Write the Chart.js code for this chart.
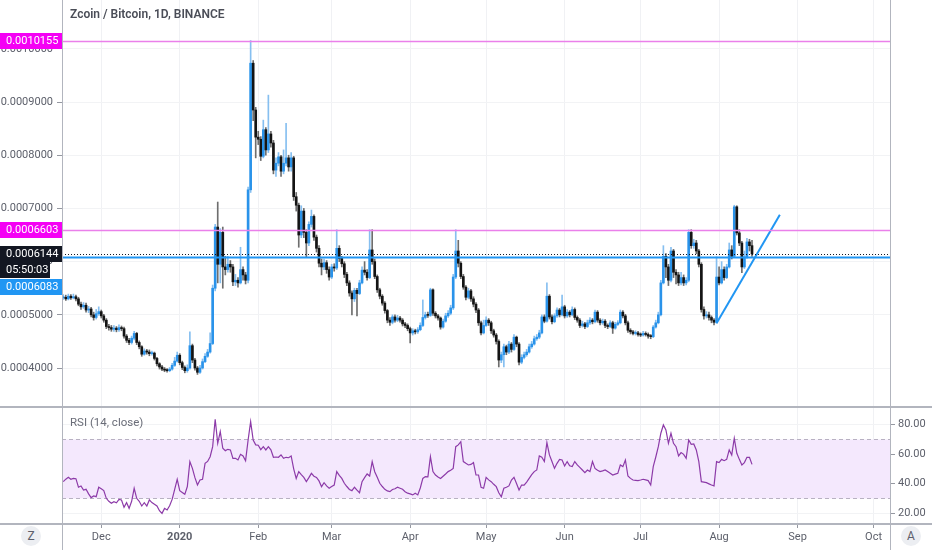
<!DOCTYPE html>
<html>
<head>
<meta charset="utf-8">
<title>Zcoin / Bitcoin, 1D, BINANCE</title>
<script src="https://cdn.jsdelivr.net/npm/chart.js@4.4.1/dist/chart.umd.min.js"></script>
<style>
  html, body { margin: 0; padding: 0; background: #fff; }
  #wrap { position: relative; width: 932px; height: 550px; overflow: hidden; font-family: Roboto, "Noto Sans", sans-serif; }
  canvas { position: absolute; left: 0; }
  #priceChart { top: 0; }
  #rsiChart { top: 408px; }
  .rule { position: absolute; background: #b2b5be; }
  .title { position: absolute; left: 70px; top: 7px; font-size: 12px; font-weight: 600; color: #4a4d57; }
  .rsi-title { position: absolute; left: 70px; top: 415px; font-size: 11.5px; color: #6a6d78; }
  .btn { position: absolute; width: 20px; height: 20px; border-radius: 50%; background: #eceef2; color: #5d606b; font-size: 12px; line-height: 20px; text-align: center; }
</style>
</head>
<body>
<div id="wrap">
  <canvas id="priceChart" width="932" height="406"></canvas>
  <canvas id="rsiChart" width="932" height="142"></canvas>
  <div class="rule" style="left:0;top:406px;width:932px;height:2px"></div>
  <div class="rule" style="left:0;top:523px;width:932px;height:2px"></div>
  <div class="rule" style="left:62px;top:0;width:1px;height:550px"></div>
  <div class="rule" style="left:890px;top:0;width:1px;height:550px"></div>
  <div class="title">Zcoin / Bitcoin, 1D, BINANCE</div>
  <div class="rsi-title">RSI (14, close)</div>
  <div class="btn" style="left:21px;top:526px">Z</div>
  <div class="btn" style="left:901px;top:526px">A</div>
</div>
<script>
// daily candles from 2019-11-16, prices in units of 0.0000001 BTC
const startDate = '2019-11-16';
const dayCount = 327;

const monthDates = ['2019-12-01', '2020-01-01', '2020-02-01', '2020-03-01', '2020-04-01', '2020-05-01',
  '2020-06-01', '2020-07-01', '2020-08-01', '2020-09-01', '2020-10-01'];
const monthNames = ['Dec', '2020', 'Feb', 'Mar', 'Apr', 'May', 'Jun', 'Jul', 'Aug', 'Sep', 'Oct'];

const priceTicks = [4000, 5000, 6000, 7000, 8000, 9000, 10000];
const rsiTicks = [20, 40, 60, 80];
const rsiBand = [30, 70];

// magenta high, magenta resistance, last price, blue support
const levelValues = [10155, 6603, 6144, 6083];
const countdown = '05:50:03';

const trendDates = ['2020-07-31', '2020-08-25'];
const trendValues = [4840, 6880];

const opens = [
  5320,5330,5300,5350,5320,5340,5300,5200,5150,5180,
  5090,5110,5000,4950,5020,5060,4980,4900,4780,4760,
  4730,4750,4720,4760,4740,4600,4520,4480,4560,4650,
  4480,4400,4260,4320,4300,4270,4280,4180,4080,4020,
  3980,3960,3950,3980,4050,4130,4240,4100,4010,3950,
  4000,4420,4150,4000,3920,4000,4120,4220,4300,4460,
  5500,6650,5950,6550,5900,5850,5950,5900,5620,5650,
  5600,5850,5750,5650,7350,9730,8850,8340,8300,7980,
  8480,8100,8400,8230,7720,7850,7970,7700,7850,7950,
  7780,7950,7220,7060,6500,6950,6550,6350,6700,6850,
  6460,6250,5970,5900,5980,5850,5710,5900,5880,6250,
  6060,5960,5760,5600,5410,5300,5460,5400,5600,5840,
  5800,5700,6220,6000,5720,5470,5350,5220,5080,4900,
  4860,4960,4900,4940,4900,4830,4800,4740,4660,4700,
  4680,4720,4800,4950,5000,4990,5470,5030,4980,4940,
  4770,4880,4980,5030,5130,5710,6200,5970,5720,5520,
  5330,5450,5300,5200,5090,4850,4660,4800,4900,4850,
  4700,4620,4500,4150,4250,4400,4300,4450,4350,4580,
  4450,4110,4200,4250,4300,4400,4450,4550,4580,4660,
  4960,4880,5350,4960,4870,4980,5090,5000,5150,4980,
  5050,5000,5100,4950,4900,4800,4830,4780,4850,4900,
  4870,5050,4900,4850,4880,4800,4780,4850,4750,4820,
  4850,5050,4980,4850,4710,4680,4650,4660,4630,4620,
  4650,4630,4600,4590,4770,4850,5000,5600,6100,5900,
  5650,6200,5800,5750,5600,5700,5600,5650,6550,6300,
  6350,6200,5950,5100,4980,5000,4950,4900,4860,5710,
  5600,5850,5700,5900,6220,6100,7030,6540,6350,5900,
  6090,6370,6300
];
const highs = [
  5380,5370,5390,5380,5390,5370,5330,5240,5230,5220,
  5160,5140,5050,5100,5150,5090,5010,4930,4820,4800,
  4800,4780,4810,4790,4770,4630,4560,4600,4690,4670,
  4510,4420,4360,4350,4340,4320,4300,4200,4100,4050,
  4010,3990,4010,4090,4200,4300,4270,4130,4040,4060,
  4680,4450,4180,4030,4050,4170,4270,4350,4660,5560,
  6700,7120,6620,6650,6100,6100,6020,5950,5760,5700,
  6270,5900,5800,7400,10155,9780,8900,8450,8350,8660,
  8520,9130,8450,8280,7950,8050,8000,8100,8600,8000,
  8050,7980,7300,7100,7050,7000,6600,6750,6970,6880,
  6500,6300,6050,6050,6020,5900,5950,5960,6600,6300,
  6100,6000,5800,5640,5450,5500,5500,5650,5900,6000,
  5850,6600,6600,6050,5750,5500,5380,5250,5100,4950,
  5000,5000,4990,4970,4930,4860,4830,4770,4740,4730,
  4760,4850,5280,5050,5050,5500,5490,5060,5010,4960,
  4920,5030,5080,5180,5760,6600,6400,6000,5760,5550,
  5500,5480,5340,5230,5120,4880,4900,4960,4930,4880,
  4730,4650,4530,4300,4450,4430,4500,4480,4630,4600,
  4480,4250,4300,4350,4450,4500,4600,4630,4710,5000,
  5000,5600,5380,5000,5020,5130,5120,5370,5180,5100,
  5080,5150,5130,4980,4930,4880,4860,4900,4950,4930,
  5090,5080,4930,4920,4910,4830,4890,4880,4860,4890,
  5090,5080,5010,4880,4740,4710,4700,4690,4660,4690,
  4680,4660,4630,4800,4900,5050,5650,6300,6150,5950,
  6270,6230,5850,5800,5800,5750,5700,6600,6600,6420,
  6400,6230,5980,5150,5060,5050,4980,4930,6090,5900,
  6000,5900,5950,6350,6300,7060,7050,6600,6380,6200,
  6440,6420,6400
];
const lows = [
  5290,5270,5280,5290,5300,5260,5170,5100,5120,5050,
  5040,4960,4900,4920,4990,4940,4860,4740,4710,4690,
  4690,4680,4690,4700,4560,4480,4440,4450,4530,4440,
  4360,4220,4240,4260,4230,4240,4150,4040,3980,3950,
  3930,3920,3930,3960,4030,4110,4060,3970,3910,3920,
  3980,4100,3960,3880,3900,3980,4100,4200,4280,4440,
  5450,5600,5600,5500,5750,5800,5800,5550,5550,5520,
  5580,5650,5580,5600,7300,8650,7950,8200,7900,7950,
  8000,8050,8150,7650,7600,7800,7600,7650,7800,7700,
  7700,7150,6950,6270,6450,6450,6090,6300,6650,6400,
  6180,5900,5750,5850,5780,5650,5680,5820,5850,6000,
  5900,5700,5550,5350,5000,5250,4980,5380,5580,5750,
  5650,5680,5950,5680,5420,5300,5180,5030,4850,4800,
  4830,4860,4870,4860,4790,4760,4700,4470,4620,4640,
  4650,4700,4780,4920,4950,4970,4990,4940,4900,4730,
  4750,4860,4950,5000,5100,5680,5900,5680,5480,5280,
  5300,5250,5150,5040,4800,4620,4640,4780,4800,4650,
  4580,4450,4020,4100,4020,4250,4270,4300,4330,4400,
  4060,4080,4170,4220,4280,4370,4430,4520,4550,4640,
  4850,4860,4920,4830,4850,4950,4960,4980,4940,4950,
  4960,4980,4910,4860,4760,4770,4740,4760,4820,4830,
  4850,4860,4810,4820,4760,4740,4760,4650,4730,4800,
  4830,4940,4810,4670,4640,4620,4620,4600,4590,4600,
  4600,4560,4550,4570,4750,4830,4980,5580,5700,5550,
  5620,5700,5580,5550,5560,5550,5560,5620,6250,6250,
  6150,5900,5050,4920,4940,4900,4850,4810,4840,5560,
  5580,5650,5680,5880,6050,6080,6500,6300,5790,5870,
  6060,6200,6100
];
const closes = [
  5330,5300,5350,5320,5340,5300,5200,5150,5180,5090,
  5110,5000,4950,5020,5060,4980,4900,4780,4760,4730,
  4750,4720,4760,4740,4600,4520,4480,4560,4650,4480,
  4400,4260,4320,4300,4270,4280,4180,4080,4020,3980,
  3960,3950,3980,4050,4130,4240,4100,4010,3950,4000,
  4420,4150,4000,3920,4000,4120,4220,4300,4460,5500,
  6650,5950,6550,5900,5850,5950,5900,5620,5650,5600,
  5850,5750,5650,7350,9730,8850,8340,8300,7980,8480,
  8100,8400,8230,7720,7850,7970,7700,7850,7950,7780,
  7950,7220,7060,6500,6950,6550,6350,6700,6850,6460,
  6250,5970,5900,5980,5850,5710,5900,5880,6250,6060,
  5960,5760,5600,5410,5300,5460,5400,5600,5840,5800,
  5700,6220,6000,5720,5470,5350,5220,5080,4900,4860,
  4960,4900,4940,4900,4830,4800,4740,4660,4700,4680,
  4720,4800,4950,5000,4990,5470,5030,4980,4940,4770,
  4880,4980,5030,5130,5710,6200,5970,5720,5520,5330,
  5450,5300,5200,5090,4850,4660,4800,4900,4850,4700,
  4620,4500,4150,4250,4400,4300,4450,4350,4580,4450,
  4110,4200,4250,4300,4400,4450,4550,4580,4660,4960,
  4880,5350,4960,4870,4980,5090,5000,5150,4980,5050,
  5000,5100,4950,4900,4800,4830,4780,4850,4900,4870,
  5050,4900,4850,4880,4800,4780,4850,4750,4820,4850,
  5050,4980,4850,4710,4680,4650,4660,4630,4620,4650,
  4630,4600,4590,4770,4850,5000,5600,6100,5900,5650,
  6200,5800,5750,5600,5700,5600,5650,6550,6300,6350,
  6200,5950,5100,4980,5000,4950,4900,4860,5710,5600,
  5850,5700,5900,6220,6100,7030,6540,6350,5900,6090,
  6370,6300,6144
];
const rsiValues = [
  41.3,43,44.2,42.9,43.5,43.3,37.5,38.4,35.6,36.1,
  33,30.5,31.6,31.1,37.5,36.5,35.2,30,28,26.6,
  27.7,27,29.3,28.9,23.9,27.1,23.2,28,36.8,30,
  28,24.8,27,24.8,28.9,27.1,26,24.8,21.6,19.8,
  23.2,22.1,25,29.3,36,42.9,35.2,34,32.7,38,
  54.9,50.3,44,39,42.4,42.9,53.7,55,58.2,65,
  83.6,67.3,75.2,63.9,62.3,63.2,62.8,57.1,57.1,56,
  59.8,58.7,55.5,69.5,82,69.5,66.2,66,63,65,
  62.8,65,62.8,57.8,58,57.8,59.4,57.1,57.8,57.5,
  58.7,50,43.5,48.1,46,44.2,41.3,44,46.9,45,
  44.2,41.8,37.9,40.6,38.4,36.8,38,39,48.1,45.5,
  43.5,40.2,38,36,35.2,37.5,35.5,33.8,41.3,44,
  46.5,45.1,54.9,48,44.2,40.2,38,36.1,35,34.5,
  36,36.5,37.5,36.8,36.1,34.5,33.5,33,32.3,33.4,
  32.3,37,43.5,44.7,44.5,58.2,48.1,45.8,44.5,43.5,
  45,46.5,48.1,49,50.3,65,66.2,68.4,54.9,53.7,
  52.6,53,54.2,45.8,45.8,37.5,36.8,44.2,42.5,41.3,
  39.5,37.9,33.8,31.1,36.8,37.5,38.4,42.4,44.2,40,
  35.6,39,39,41,43.5,46,48.1,49.2,58.7,57.8,
  54.9,67.7,59.4,55,50.3,53.7,56.4,56,51.9,54.9,
  52,51.5,54.9,52.6,51,49.2,47.4,49.2,48.1,54.9,
  50.3,49,48.1,48.6,49.2,48.1,47,45.8,46.4,46.9,
  52.6,51.5,56,45.1,43.5,42.4,42.2,42,42.4,42.9,
  42.5,42,39,51.5,58,65,74.1,79.7,76.3,67.3,
  74.1,67.3,65,58.7,61,59.8,57.1,69.5,66.6,66.8,
  62.8,54.9,41.3,41,40.6,39.8,39,38.4,54.9,54.2,
  56.4,55.5,56.4,62.8,59.4,70.7,60.5,56.4,52.6,54.2,
  57.8,57.8,53
];

const FONT = 'Roboto, "Noto Sans", sans-serif';
Chart.defaults.font.family = FONT;
Chart.defaults.font.size = 11;
Chart.defaults.color = '#5d606b';

const labels = [];
const t0 = Date.parse(startDate);
for (let i = 0; i < dayCount; i++) {
  labels.push(new Date(t0 + i * 86400000).toISOString().slice(0, 10));
}
const monthIndex = monthDates.map(d => labels.indexOf(d));
const useMonthTicks = s => { s.ticks = monthIndex.map(i => ({ value: i })); };

const fmtPrice = v => (v / 1e7).toFixed(7);
const isUp = i => closes[i] >= opens[i];

const UP = '#2a93ea', UP_WICK = '#86bff0', DOWN = '#141414', DOWN_WICK = '#6e6e6e';
const MAGENTA = '#f500f5', MAGENTA_LINE = '#ea80ea', BLACK = '#131722', BLUE = '#2196f3';

const bodies = opens.map((o, i) => [o, closes[i]]);
const wicks = lows.map((l, i) => [l, highs[i]]);
const trend = trendDates.map((d, i) => ({ x: d, y: trendValues[i] }));

const levelPlugin = {
  id: 'levels',
  afterDatasetsDraw(chart) {
    const { ctx, chartArea: a, scales: { y } } = chart;
    const styles = [
      { color: MAGENTA_LINE, width: 1.5, dash: [] },
      { color: MAGENTA_LINE, width: 1.5, dash: [] },
      { color: BLACK, width: 1, dash: [1, 2] },
      { color: BLUE, width: 2, dash: [] }
    ];
    ctx.save();
    ctx.beginPath();
    ctx.rect(a.left, a.top, a.right - a.left, a.bottom - a.top);
    ctx.clip();
    levelValues.forEach((v, i) => {
      const py = Math.round(y.getPixelForValue(v)) + 0.5;
      ctx.strokeStyle = styles[i].color;
      ctx.lineWidth = styles[i].width;
      ctx.setLineDash(styles[i].dash);
      ctx.beginPath();
      ctx.moveTo(a.left, py);
      ctx.lineTo(a.right, py);
      ctx.stroke();
    });
    ctx.restore();
  },
  afterDraw(chart) {
    const { ctx, scales: { y } } = chart;
    const last = y.getPixelForValue(levelValues[2]);
    const boxes = [
      { text: fmtPrice(levelValues[0]), cy: y.getPixelForValue(levelValues[0]), bg: MAGENTA, w: 63 },
      { text: fmtPrice(levelValues[1]), cy: y.getPixelForValue(levelValues[1]), bg: MAGENTA, w: 63 },
      { text: fmtPrice(levelValues[2]), cy: last, bg: BLACK, w: 63 },
      { text: countdown, cy: last + 16, bg: BLACK, w: 50 },
      { text: fmtPrice(levelValues[3]), cy: last + 33, bg: BLUE, w: 63 }
    ];
    ctx.save();
    ctx.font = '11px ' + FONT;
    ctx.textBaseline = 'middle';
    ctx.textAlign = 'left';
    boxes.forEach(b => {
      const top = Math.round(b.cy) - 8;
      ctx.fillStyle = b.bg;
      ctx.fillRect(0, top, b.w, 16);
      ctx.fillStyle = '#ffffff';
      ctx.fillText(b.text, 6, top + 8.5);
    });
    ctx.restore();
  }
};

const bandPlugin = {
  id: 'rsiBand',
  beforeDatasetsDraw(chart) {
    const { ctx, chartArea: a, scales: { y } } = chart;
    const top = Math.round(y.getPixelForValue(rsiBand[1])) + 0.5;
    const bot = Math.round(y.getPixelForValue(rsiBand[0])) + 0.5;
    ctx.save();
    ctx.fillStyle = '#f4e8fd';
    ctx.fillRect(a.left, top, a.right - a.left, bot - top);
    ctx.strokeStyle = '#b8b1c2';
    ctx.lineWidth = 1;
    ctx.setLineDash([4, 3]);
    [top, bot].forEach(py => {
      ctx.beginPath();
      ctx.moveTo(a.left, py);
      ctx.lineTo(a.right, py);
      ctx.stroke();
    });
    ctx.restore();
  }
};

new Chart(document.getElementById('priceChart'), {
  type: 'bar',
  data: {
    labels,
    datasets: [
      { type: 'line', data: trend, borderColor: BLUE, borderWidth: 2, pointRadius: 0, order: 0 },
      { data: bodies, backgroundColor: c => isUp(c.dataIndex) ? UP : DOWN,
        barThickness: 2, minBarLength: 1, grouped: false, order: 1 },
      { data: wicks, backgroundColor: c => isUp(c.dataIndex) ? UP_WICK : DOWN_WICK,
        barThickness: 1, grouped: false, order: 2 }
    ]
  },
  options: {
    responsive: false,
    animation: false,
    layout: { padding: { right: 42 } },
    plugins: { legend: { display: false }, tooltip: { enabled: false } },
    scales: {
      x: {
        offset: true,
        afterBuildTicks: useMonthTicks,
        ticks: { display: false },
        grid: { offset: false, color: '#f0f1f4', drawTicks: false },
        border: { display: false },
        afterFit: s => { s.height = 0; s.paddingLeft = 0; s.paddingRight = 0; }
      },
      y: {
        position: 'left',
        min: 3286,
        max: 10918,
        afterBuildTicks: s => { s.ticks = priceTicks.map(v => ({ value: v })); },
        ticks: { callback: v => fmtPrice(v), padding: 4 },
        grid: { color: '#f2f3f5', tickColor: '#9598a1', tickLength: 5 },
        border: { display: false },
        afterFit: s => { s.width = 62; s.paddingTop = 0; s.paddingBottom = 0; }
      }
    }
  },
  plugins: [levelPlugin]
});

new Chart(document.getElementById('rsiChart'), {
  type: 'line',
  data: {
    labels,
    datasets: [{ data: rsiValues, borderColor: '#8c3aa8', borderWidth: 1.2, pointRadius: 0, tension: 0 }]
  },
  options: {
    responsive: false,
    animation: false,
    layout: { padding: { left: 62 } },
    plugins: { legend: { display: false }, tooltip: { enabled: false } },
    scales: {
      x: {
        offset: true,
        afterBuildTicks: useMonthTicks,
        ticks: {
          autoSkip: false,
          maxRotation: 0,
          padding: 3,
          callback: (v, i) => monthNames[i],
          font: c => ({ size: 11, weight: monthNames[c.index] === '2020' ? 'bold' : 'normal' })
        },
        grid: { offset: false, color: '#f0f1f4', tickColor: '#9598a1', tickLength: 4 },
        border: { display: false },
        afterFit: s => { s.height = 26; s.paddingLeft = 0; s.paddingRight = 0; }
      },
      y: {
        position: 'right',
        min: 12.6,
        max: 91.2,
        afterBuildTicks: s => { s.ticks = rsiTicks.map(v => ({ value: v })); },
        ticks: { callback: v => v.toFixed(2), padding: 3 },
        grid: { color: '#f2f3f5', tickColor: '#9598a1', tickLength: 5 },
        border: { display: false },
        afterFit: s => { s.width = 42; s.paddingTop = 0; s.paddingBottom = 0; }
      }
    }
  },
  plugins: [bandPlugin]
});
</script>
</body>
</html>
